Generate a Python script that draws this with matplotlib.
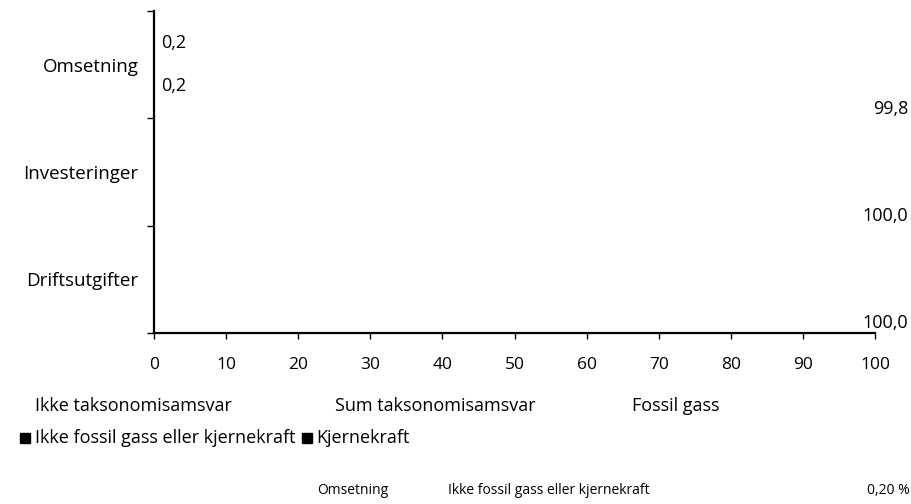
import matplotlib
matplotlib.use("Agg")
import matplotlib.pyplot as plt
import matplotlib.transforms as mtransforms
from matplotlib.patches import Rectangle

plt.rcParams["font.family"] = ["Open Sans", "DejaVu Sans"]

# ─── Data ─────────────────────────────────────────────────────────────────────
CATEGORIES = ["Omsetning", "Investeringer", "Driftsutgifter"]
SERIES = ["Ikke taksonomisamsvar", "Sum taksonomisamsvar", "Fossil gass",
          "Ikke fossil gass eller kjernekraft", "Kjernekraft"]
VALUES = {
    "Ikke taksonomisamsvar":              [99.8, 100.0, 100.0],
    "Sum taksonomisamsvar":               [0.2, 0.0, 0.0],
    "Fossil gass":                        [0.0, 0.0, 0.0],
    "Ikke fossil gass eller kjernekraft": [0.2, 0.0, 0.0],
    "Kjernekraft":                        [0.0, 0.0, 0.0],
}
X_TICKS = [0, 10, 20, 30, 40, 50, 60, 70, 80, 90, 100]
TOOLTIP = ("Omsetning", "Ikke fossil gass eller kjernekraft", "0,20 %")

# label offsets within each category band (layout only)
LABEL_DY = {"Ikke taksonomisamsvar": 0.41, "Sum taksonomisamsvar": -0.2,
            "Ikke fossil gass eller kjernekraft": 0.2}


def fmt(v):
    return f"{v:.1f}".replace(".", ",")


fig = plt.figure(figsize=(9.11, 5.04), dpi=100)
ax = fig.add_axes([154 / 911, 1 - 333 / 504, 721 / 911, 322 / 504])

ypos = list(range(len(CATEGORIES)))
left = [0.0] * len(CATEGORIES)
for s in SERIES:
    vals = VALUES[s]
    ax.barh(ypos, vals, left=left, height=0.6, color="white", edgecolor="none")
    left = [a + b for a, b in zip(left, vals)]

# data labels
right_tr = mtransforms.blended_transform_factory(ax.transAxes, ax.transData)
for i, cat in enumerate(CATEGORIES):
    for s, dy in LABEL_DY.items():
        v = VALUES[s][i]
        if v <= 0:
            continue
        if v > 50:
            ax.text(1.046, i + dy, fmt(v), transform=right_tr, ha="right",
                    va="center", fontsize=13, color="black", clip_on=False)
        else:
            ax.annotate(fmt(v), (v, i + dy), xytext=(4, 0), textcoords="offset points",
                        ha="left", va="center", fontsize=13, color="black")

ax.set_xlim(0, 100)
ax.set_ylim(len(CATEGORIES) - 0.5, -0.5)
ax.set_xticks(X_TICKS)
ax.set_xticklabels([str(t) for t in X_TICKS], fontsize=12.5)
ax.set_yticks(ypos)
ax.set_yticklabels(CATEGORIES, fontsize=13.5)
ax.tick_params(axis="y", length=0, pad=11)
ax.tick_params(axis="x", length=4, width=1, pad=13, direction="out")
# category band separators as minor ticks
ax.set_yticks([-0.5 + k for k in range(len(CATEGORIES) + 1)], minor=True)
ax.tick_params(axis="y", which="minor", length=5, width=1)
for side in ("top", "right"):
    ax.spines[side].set_visible(False)
for side in ("left", "bottom"):
    ax.spines[side].set_linewidth(1.6)
ax.set_facecolor("white")

# legend (flow layout)
LEG_FS = 13
fig.text(35 / 911, 1 - 406 / 504, SERIES[0], fontsize=LEG_FS, va="center")
fig.text(335 / 911, 1 - 406 / 504, SERIES[1], fontsize=LEG_FS, va="center")
fig.text(632 / 911, 1 - 406 / 504, SERIES[2], fontsize=LEG_FS, va="center")
for x_sq, x_txt, name in [(20, 35, SERIES[3]), (302, 316, SERIES[4])]:
    fig.patches.append(Rectangle((x_sq / 911, 1 - 443 / 504), 10 / 911, 10 / 504,
                                 transform=fig.transFigure, color="black"))
    fig.text(x_txt / 911, 1 - 438 / 504, name, fontsize=LEG_FS, va="center")

# hover tooltip row
fig.text(317 / 911, 1 - 491 / 504, TOOLTIP[0], fontsize=10, va="center")
fig.text(448 / 911, 1 - 491 / 504, TOOLTIP[1], fontsize=10, va="center")
fig.text(910 / 911, 1 - 491 / 504, TOOLTIP[2], fontsize=10, va="center", ha="right")

fig.savefig("out.png", dpi=100)
